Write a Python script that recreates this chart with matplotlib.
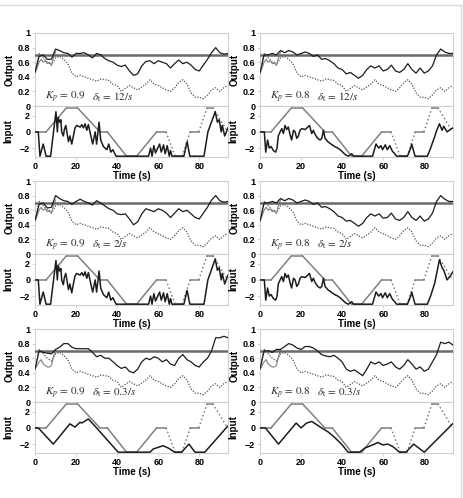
import matplotlib.pyplot as plt
import numpy as np
from matplotlib.lines import Line2D

plt.rcParams['font.family'] = ['Liberation Sans', 'DejaVu Sans']
plt.rcParams['mathtext.fontset'] = 'stix'

# time grid of the output traces (s)
T_OUT = list(range(0, 96, 2))

# reference output level
SETPOINT = 0.7

# dotted output trace (same in every panel)
DOT = [.46, .72, .66, .60, .56, .66, .68, .64, .58, .45, .40, .42, .40, .38, .36, .34,
       .37, .36, .35, .30, .28, .20, .24, .28, .25, .22, .26, .30, .36, .30, .28, .25,
       .22, .20, .25, .32, .36, .30, .18, .12, .12, .10, .15, .22, .25, .20, .25, .28]

# early grey solid part of the output
EARLY_T = [0, 1, 2, 3, 4, 5, 6, 7, 8, 9, 10]
EARLY_HI = [.45, .52, .60, .64, .60, .62, .58, .60, .56, .66, .74]
EARLY_LO = [.45, .50, .55, .58, .52, .50, .48, .48, .50, .62, .72]

# black output traces
OUT_A1 = [.46, .68, .70, .64, .64, .78, .76, .73, .72, .67, .72, .72, .73, .70, .66, .72,
          .70, .65, .62, .60, .56, .54, .56, .48, .42, .44, .55, .61, .62, .58, .62, .60,
          .58, .52, .58, .63, .58, .60, .56, .50, .48, .56, .64, .73, .80, .73, .71, .72]
OUT_B1 = [.45, .70, .70, .72, .70, .76, .73, .76, .74, .70, .72, .74, .72, .68, .70, .64,
          .65, .62, .58, .52, .50, .44, .46, .42, .38, .42, .50, .55, .52, .55, .48, .50,
          .56, .48, .46, .50, .58, .50, .45, .52, .45, .48, .55, .70, .78, .74, .72, .72]
OUT_A2 = [.46, .68, .70, .63, .64, .80, .76, .73, .72, .68, .72, .75, .72, .70, .67, .73,
          .70, .66, .62, .60, .55, .54, .55, .48, .40, .44, .55, .62, .60, .58, .62, .60,
          .56, .50, .56, .62, .58, .60, .55, .50, .48, .56, .64, .74, .80, .73, .71, .72]
OUT_B2 = [.45, .70, .70, .72, .70, .76, .73, .76, .74, .70, .72, .74, .72, .68, .70, .64,
          .65, .62, .58, .52, .50, .45, .46, .42, .38, .42, .50, .55, .52, .55, .49, .50,
          .56, .48, .46, .50, .58, .50, .46, .52, .45, .48, .56, .72, .80, .75, .72, .72]
OUT_A3 = [.45, .70, .68, .67, .66, .72, .75, .80, .80, .75, .73, .73, .73, .73, .68, .62,
          .64, .60, .60, .55, .50, .46, .48, .42, .40, .45, .55, .60, .58, .62, .60, .55,
          .58, .52, .50, .60, .65, .58, .55, .50, .48, .55, .60, .70, .88, .88, .90, .88]
OUT_B3 = [.45, .70, .70, .68, .72, .72, .76, .80, .78, .74, .72, .76, .76, .74, .70, .65,
          .63, .62, .64, .60, .55, .45, .42, .44, .40, .36, .45, .55, .52, .55, .50, .52,
          .55, .48, .45, .50, .58, .52, .45, .48, .42, .45, .55, .65, .82, .80, .82, .78]

# grey reference input (piecewise linear)
REF_T = [0, 5.4, 15.4, 20.6, 31.6, 35.2, 44.6, 49.5, 59.2, 63.8, 68.3, 71.6, 75.6,
         79.8, 83.8, 86.6, 93.8]
REF_V = [0, 0, 3, 3, 0, 0, -3, -3, 0, 0, -3, -3, 0, 0, 3, 3, 0]
REF_STYLE = ['-'] * 9 + [':', '-', ':', '-', ':', '-', ':']

# black input traces
IN_A1_T = [0, 1.6, 2.4, 4.0, 5.4, 7.6, 10.2, 10.9, 11.3, 12.0, 12.6, 13.0, 13.8, 14.3,
           15.0, 16.3, 17.0, 17.9, 18.7, 19.5, 20.3, 22.0, 22.8, 23.6, 24.4, 25.2, 26.0,
           27.2, 28.1, 29.3, 30.0, 31.2, 32.0, 33.3, 35.0, 35.9, 36.9, 37.9, 39.5, 55.3,
           56.3, 57.0, 57.9, 58.7, 60.7, 61.5, 62.6, 63.4, 64.4, 65.4, 66.0, 66.7, 72.5,
           74.1, 75.4, 82.3, 84.2, 87.8, 88.8, 89.7, 90.7, 91.2, 92.4, 94.0]
IN_A1_V = [0, 0, -3, -1.5, -3, -3, 2.5, 0, 1.8, 1.2, 1.5, 0, -0.5, 0.3,
           0.8, -1.2, -0.5, -1.5, -0.5, 0.5, 0.8, 0.6, 0.9, 0.5, 1.0, 0.2, 0.9,
           -0.5, -1.5, 0, -1.5, 1.2, -1.0, -1.8, -2.2, -1.5, -2.5, -2.2, -3, -3,
           -2, -3, -1.7, -2.6, -1.5, -2.5, -1.6, -2.7, -1.7, -3, -2.3, -3, -3,
           -1.2, -3, -3, 0, 2.5, 1.2, 1.5, 0, 0.8, -0.5, 0.5]
IN_B1_T = [0, 2.1, 2.8, 3.7, 4.5, 5.4, 6.5, 7.6, 8.3, 8.9, 9.8, 10.6, 11.4, 12.2, 13.0,
           13.8, 14.6, 15.4, 16.3, 17.1, 17.9, 18.7, 19.5, 20.3, 22.0, 23.3, 24.1, 25.2,
           26.0, 26.8, 28.1, 29.3, 30.1, 30.9, 31.7, 33.0, 34.6, 36.3, 37.9, 39.5, 41.5,
           43.0, 44.7, 45.5, 54.8, 56.5, 57.8, 58.9, 59.7, 61.0, 62.0, 63.2, 64.5, 65.3,
           66.5, 71.8, 73.4, 73.9, 75.5, 81.5, 83.1, 85.2, 85.8, 87.4, 88.7, 89.5, 91.1,
           92.7, 94.0]
IN_B1_V = [0, 0, -2.5, -1, -2, -1.8, -2.3, -2.5, -2, -0.5, 0, 0.4, -0.2, 0.8, 0.3,
           0.6, -0.3, -1, 0.2, 0, -0.8, -0.5, 0.2, 0.4, 0.3, 0.6, 0.8, -0.2,
           0.2, -0.3, -0.8, -1, -0.8, 0.2, -0.8, -1.2, -1.5, -1.8, -2, -2.3, -2.8,
           -3, -2.7, -3, -3, -1.5, -2, -1.7, -2.2, -1.6, -2.2, -1.7, -2.4, -2.6,
           -3, -3, -2, -1.5, -3, -3, -2, -0.5, 0, 1, 0.2, 0.7, 0,
           0.3, 0.5]
IN_A2_T = IN_A1_T
IN_A2_V = [0, 0, -3, -1.5, -3, -3, 2.4, 0, 1.8, 1.1, 1.4, 0, -0.6, 0.3,
           0.8, -1.2, -0.5, -1.6, -0.5, 0.5, 0.8, 0.6, 0.9, 0.5, 1.0, 0.2, 0.9,
           -0.5, -1.5, 0, -1.5, 1.1, -1.0, -1.8, -2.2, -1.5, -2.5, -2.2, -3, -3,
           -2, -3, -1.7, -2.6, -1.5, -2.5, -1.6, -2.7, -1.7, -3, -2.3, -3, -3,
           -1.3, -3, -3, 0, 2.6, 1.2, 1.5, 0, 0.8, -0.5, 0.6]
IN_B2_T = IN_B1_T
IN_B2_V = [0, 0, -2.5, -1, -2, -1.8, -2.3, -2.5, -2, -0.5, 0, 0.4, -0.2, 0.8, 0.3,
           0.6, -0.3, -1, 0.2, 0, -0.8, -0.5, 0.2, 0.4, 0.3, 0.6, 0.8, -0.2,
           0.2, -0.3, -0.8, -1, -0.8, 0.2, -0.8, -1.2, -1.5, -1.8, -2, -2.3, -2.8,
           -3, -2.7, -3, -3, -1.5, -2, -1.7, -2.2, -1.6, -2.2, -1.7, -2.4, -2.6,
           -3, -3, -2, -1.5, -3, -3, -2, -0.3, 0.5, 2.5, 1.5, 1.2, 0,
           0.5, 1.0]
IN_A3_T = [0, 1.6, 8.9, 17.0, 19.5, 21.9, 22.7, 26.0, 30.0, 40.5, 56.0, 57.6, 60.0,
           62.4, 65.0, 68.0, 71.4, 75.0, 77.9, 82.7, 93.8]
IN_A3_V = [0, 0, -2, 0.5, 0.1, 0.7, 0.6, 1.1, 0, -3, -3, -2.6, -2.4,
           -2.2, -2.5, -3, -3, -2, -3, -3, 0.2]
IN_B3_T = [0, 2.6, 9.0, 17.6, 20.0, 22.7, 25.2, 27.6, 30.0, 33.2, 35.6, 39.7, 42.9,
           48.5, 51.0, 55.8, 57.4, 59.8, 62.2, 64.7, 67.9, 71.1, 74.8, 80.0, 93.8]
IN_B3_V = [0, 0, -2, 0.6, 0, 0.6, 0.8, 0.4, 0, -0.5, -1, -2, -3,
           -3, -2.5, -2, -1.8, -2.1, -2, -2.3, -3, -3, -2, -3, 0.5]

PANELS = [
    (OUT_A1, EARLY_HI, IN_A1_T, IN_A1_V, '0.9', '12/s'),
    (OUT_B1, EARLY_HI, IN_B1_T, IN_B1_V, '0.8', '12/s'),
    (OUT_A2, EARLY_HI, IN_A2_T, IN_A2_V, '0.9', '2/s'),
    (OUT_B2, EARLY_HI, IN_B2_T, IN_B2_V, '0.8', '2/s'),
    (OUT_A3, EARLY_LO, IN_A3_T, IN_A3_V, '0.9', '0.3/s'),
    (OUT_B3, EARLY_LO, IN_B3_T, IN_B3_V, '0.8', '0.3/s'),
]

W, H = 463, 498
fig = plt.figure(figsize=(W / 100, H / 100), dpi=100)

COL_X = [35, 260]
AX_W = 193
ROW_TOP = [33, 181, 329]
OUT_H = 73
IN_H = 51

SPINE = '#cfcfcf'
REFGREY = '#808080'
BLACK = '#1c1c1c'


def style(ax):
    for s in ax.spines.values():
        s.set_color(SPINE)
        s.set_linewidth(0.8)
    ax.tick_params(length=2, width=0.6, color=SPINE, labelsize=6.5, pad=1.5)
    for lab in ax.get_xticklabels() + ax.get_yticklabels():
        lab.set_fontweight('bold')


for k, (out, early, in_t, in_v, kp, dt) in enumerate(PANELS):
    r, c = divmod(k, 2)
    x0 = COL_X[c] / W
    top = ROW_TOP[r]
    ax_o = fig.add_axes([x0, 1 - (top + OUT_H) / H, AX_W / W, OUT_H / H])
    ax_i = fig.add_axes([x0, 1 - (top + OUT_H + IN_H) / H, AX_W / W, IN_H / H])

    ax_o.axhline(SETPOINT, color='#6a6a6a', lw=1.8, zorder=3)
    ax_o.plot(T_OUT, DOT, color='#555555', lw=0.9, ls=(0, (1, 1.2)))
    ax_o.plot(EARLY_T, early, color=REFGREY, lw=0.8)
    ax_o.plot(T_OUT, out, color=BLACK, lw=0.9, zorder=4)
    ax_o.set_xlim(0, 94)
    ax_o.set_ylim(0, 1)
    ax_o.set_yticks([0, 0.2, 0.4, 0.6, 0.8, 1])
    ax_o.set_yticklabels(['0', '0.2', '0.4', '0.6', '0.8', '1'])
    ax_o.set_xticks([0, 20, 40, 60, 80])
    ax_o.set_xticklabels([])
    ax_o.set_ylabel('Output', fontsize=7, fontweight='bold', labelpad=2)
    ax_o.text(5, 0.12, r'$K_p\,=\,' + kp + '$', fontsize=8, va='center', color='#2a2a2a')
    ax_o.text(28, 0.12, r'$\delta_{\mathrm{t}}\,=\,' + dt + '$', fontsize=8, va='center',
              color='#2a2a2a')
    style(ax_o)

    for i in range(len(REF_T) - 1):
        ax_i.plot(REF_T[i:i + 2], REF_V[i:i + 2], color=REFGREY, lw=1.1,
                  ls=REF_STYLE[i])
    ax_i.plot(in_t, in_v, color=BLACK, lw=1.1, zorder=4)
    ax_i.set_xlim(0, 94)
    ax_i.set_ylim(-3.1, 3.2)
    ax_i.set_yticks([-2, 0, 2])
    ax_i.set_xticks([0, 20, 40, 60, 80])
    ax_i.set_ylabel('Input', fontsize=7, fontweight='bold', labelpad=5)
    ax_i.set_xlabel('Time (s)', fontsize=7, fontweight='bold', labelpad=0)
    style(ax_i)

# light frame lines along the top and right of the figure
fig.add_artist(Line2D([0, 461 / W], [1 - 5 / H, 1 - 5 / H], color='#d9d9d9', lw=1))
fig.add_artist(Line2D([461 / W, 461 / W], [0, 1 - 5 / H], color='#d9d9d9', lw=1))

fig.savefig('out.png', dpi=100)
